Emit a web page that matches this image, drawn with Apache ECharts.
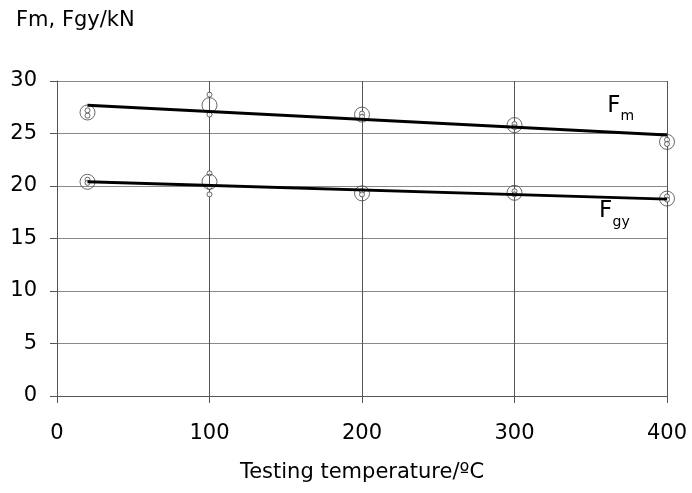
<!DOCTYPE html>
<html>
  <head>
    <meta charset="utf-8">
    <title></title>
    <style>
    body {margin:0;}
    #box {width:692px; height:493px;}
    </style>
    <script src="https://cdn.jsdelivr.net/npm/echarts@6/dist/echarts.min.js"></script>
  </head>
  <body>
    <div id="box"></div>
    <script>
    // testing temperatures
    const temps = [20, 100, 200, 300, 400];

    // individual test results (small circles)
    const fmTests = [[26.7, 27.2], [28.7, 26.8], [26.9, 26.6], [25.9, 25.6], [24.4, 24.0]];
    const fgyTests = [[20.6, 20.3], [21.2, 19.9, 19.2], [19.5, 19.2], [19.5, 19.2], [19.0, 18.7]];

    // mean values (big circles)
    const fmMean = [27.0, 27.7, 26.8, 25.8, 24.2];
    const fgyMean = [20.4, 20.4, 19.3, 19.35, 18.8];

    // trend lines, value at first and last temperature
    const fmTrend = [27.7, 24.85];
    const fgyTrend = [20.4, 18.75];

    const xTicks = [0, 100, 200, 300, 400];
    const yTicks = [0, 5, 10, 15, 20, 25, 30];

    const font = 'DejaVu Sans, sans-serif';

    function testPoints(tests) {
      let out = [];
      tests.forEach((vals, i) => vals.forEach(v => out.push([temps[i], v])));
      return out;
    }
    function trendPoints(tr) {
      return [[temps[0], tr[0]], [temps[temps.length - 1], tr[1]]];
    }
    const pairs = arr => arr.map((v, i) => [temps[i], v]);

    // curve labels: main letter and subscript, placed in data coordinates
    function labelPoint(text, pos, size, align) {
      return {
        value: pos,
        label: {formatter: text, fontSize: size, align: align}
      };
    }

    const chart = echarts.init(document.getElementById('box'));
    chart.setOption({
      animation: false,
      backgroundColor: '#fff',
      grid: {left: 57, right: 25, top: 81, bottom: 97},
      title: {
        text: 'Fm, Fgy/kN', left: 11, top: 5,
        textStyle: {fontFamily: font, fontSize: 21, fontWeight: 'normal', color: '#000'}
      },
      xAxis: {
        type: 'value', min: 0, max: 400, interval: 100,
        name: 'Testing temperature/ºC', nameLocation: 'middle', nameGap: 66,
        nameTextStyle: {fontFamily: font, fontSize: 21, color: '#000'},
        axisLine: {show: true, onZero: false, lineStyle: {color: '#555', width: 1}},
        axisTick: {show: true, inside: false, length: 7, lineStyle: {color: '#555'}},
        axisLabel: {fontFamily: font, fontSize: 21, color: '#000', margin: 27,
          formatter: v => xTicks.includes(v) ? String(v) : ''},
        splitLine: {show: true, lineStyle: {color: '#555', width: 1}}
      },
      yAxis: {
        type: 'value', min: 0, max: 30, interval: 5,
        axisLine: {show: true, lineStyle: {color: '#555', width: 1}},
        axisTick: {show: true, inside: false, length: 7, lineStyle: {color: '#555'}},
        axisLabel: {fontFamily: font, fontSize: 21, color: '#000', margin: 20,
          formatter: v => yTicks.includes(v) ? String(v) : ''},
        splitLine: {show: true, lineStyle: {color: '#888', width: 1}}
      },
      series: [
        {
          type: 'scatter', data: testPoints(fmTests).concat(testPoints(fgyTests)),
          symbol: 'circle', symbolSize: 5,
          itemStyle: {color: '#fff', borderColor: '#444', borderWidth: 1}, z: 3
        },
        {
          type: 'scatter', data: pairs(fmMean).concat(pairs(fgyMean)),
          symbol: 'circle', symbolSize: 15,
          itemStyle: {color: 'rgba(0,0,0,0)', borderColor: '#444', borderWidth: 1}, z: 4
        },
        {
          type: 'line', data: trendPoints(fmTrend), symbol: 'none',
          lineStyle: {color: '#000', width: 3}, z: 5
        },
        {
          type: 'line', data: trendPoints(fgyTrend), symbol: 'none',
          lineStyle: {color: '#000', width: 3}, z: 5
        },
        {
          type: 'scatter', symbol: 'circle', symbolSize: 1, silent: true,
          itemStyle: {color: '#fff', opacity: 1},
          data: [
            labelPoint('F', [365.2, 27.57], 23, 'center'),
            labelPoint('m', [369.5, 26.62], 14, 'left'),
            labelPoint('F', [359.7, 17.57], 23, 'center'),
            labelPoint('gy', [364.3, 16.5], 14, 'left')
          ],
          label: {
            show: true, position: 'inside', fontFamily: font, color: '#000',
            opacity: 1, textBorderWidth: 0, verticalAlign: 'middle'
          },
          z: 6
        }
      ]
    });
    </script>
  </body>
</html>
